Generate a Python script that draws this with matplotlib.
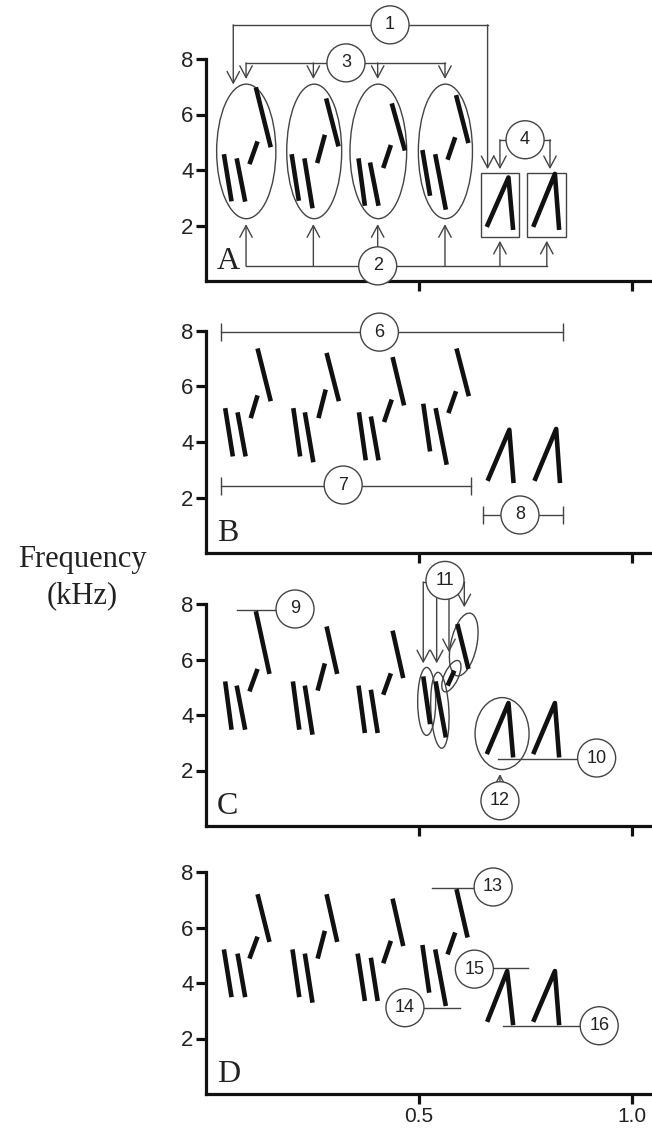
import matplotlib
matplotlib.use("Agg")
import matplotlib.pyplot as plt
from matplotlib.patches import Ellipse, Rectangle
from matplotlib.transforms import ScaledTranslation

# ---------------- data (time s, frequency kHz) ----------------
# notes: [x_start, y_start, x_end, y_end]
A_notes = [
    [0.042, 4.57, 0.060, 2.87], [0.072, 4.42, 0.092, 2.86], [0.102, 4.21, 0.121, 5.03], [0.117, 6.98, 0.152, 4.82],
    [0.201, 4.57, 0.218, 2.89], [0.231, 4.42, 0.250, 2.62], [0.261, 4.25, 0.279, 5.27], [0.282, 6.58, 0.311, 4.85],
    [0.358, 4.42, 0.373, 2.71], [0.385, 4.27, 0.405, 2.71], [0.416, 4.07, 0.434, 4.90], [0.436, 6.40, 0.467, 4.70],
    [0.508, 4.72, 0.526, 3.07], [0.538, 4.57, 0.563, 2.57], [0.567, 4.37, 0.585, 5.18], [0.587, 6.70, 0.616, 4.97]]
B_notes = [
    [0.045, 5.22, 0.063, 3.48], [0.074, 5.07, 0.093, 3.48], [0.105, 4.86, 0.121, 5.68], [0.121, 7.37, 0.152, 5.47],
    [0.205, 5.22, 0.221, 3.48], [0.232, 5.07, 0.252, 3.27], [0.264, 4.86, 0.281, 5.89], [0.283, 7.21, 0.312, 5.47],
    [0.359, 5.07, 0.375, 3.34], [0.387, 4.92, 0.405, 3.34], [0.418, 4.72, 0.436, 5.53], [0.438, 7.06, 0.465, 5.32],
    [0.510, 5.38, 0.526, 3.66], [0.539, 5.22, 0.565, 3.18], [0.569, 5.04, 0.587, 5.83], [0.588, 7.37, 0.617, 5.65]]
C_notes = [
    [0.045, 5.21, 0.060, 3.47], [0.072, 5.06, 0.092, 3.47], [0.102, 4.85, 0.121, 5.66], [0.117, 7.74, 0.149, 5.48],
    [0.204, 5.21, 0.219, 3.47], [0.232, 5.06, 0.250, 3.29], [0.262, 4.88, 0.279, 5.86], [0.283, 7.19, 0.308, 5.48],
    [0.358, 5.06, 0.373, 3.35], [0.387, 4.91, 0.403, 3.35], [0.416, 4.73, 0.434, 5.50], [0.438, 7.04, 0.463, 5.33],
    [0.510, 5.39, 0.526, 3.67], [0.539, 5.21, 0.563, 3.19], [0.567, 5.06, 0.583, 5.60], [0.590, 7.28, 0.616, 5.66]]
D_notes = [
    [0.042, 5.21, 0.060, 3.49], [0.074, 5.06, 0.092, 3.49], [0.102, 4.88, 0.121, 5.67], [0.121, 7.20, 0.149, 5.48],
    [0.203, 5.21, 0.219, 3.49], [0.232, 5.06, 0.250, 3.29], [0.262, 4.88, 0.279, 5.88], [0.283, 7.20, 0.308, 5.48],
    [0.356, 5.06, 0.373, 3.35], [0.387, 4.91, 0.403, 3.35], [0.416, 4.71, 0.434, 5.52], [0.438, 7.04, 0.463, 5.33],
    [0.508, 5.37, 0.524, 3.65], [0.538, 5.21, 0.563, 3.17], [0.567, 5.03, 0.585, 5.82], [0.588, 7.38, 0.614, 5.64]]

# trills: [x_start, y_start, x_peak, y_peak, x_end, y_end]
A_trills = [[0.659, 1.95, 0.710, 3.73, 0.721, 1.84], [0.768, 1.95, 0.819, 3.86, 0.829, 1.84]]
B_trills = [[0.661, 2.60, 0.712, 4.44, 0.722, 2.52], [0.771, 2.60, 0.822, 4.47, 0.831, 2.52]]
C_trills = [[0.659, 2.59, 0.710, 4.43, 0.721, 2.47], [0.768, 2.59, 0.819, 4.43, 0.829, 2.47]]
D_trills = [[0.660, 2.60, 0.707, 4.43, 0.721, 2.48], [0.768, 2.60, 0.819, 4.43, 0.829, 2.48]]

panel_letters = ["A", "B", "C", "D"]
y_ticks = [2, 4, 6, 8]
x_ticks = [0.5, 1.0]
x_ticklabels = ["0.5", "1.0"]

# ---------------- styling ----------------
W, H = 652, 1129
fig = plt.figure(figsize=(W / 100, H / 100), dpi=100)
SANS = ["Liberation Sans", "DejaVu Sans"]
SERIF = ["Liberation Serif", "DejaVu Serif"]
INK = "#111111"
ANN = "#444444"

axis_bottom_px = [281, 553, 826, 1094]
left_px = 206
ax_h_px = 222

axes = []
for i, yb in enumerate(axis_bottom_px):
    ax = fig.add_axes([left_px / W, 1 - yb / H, 1 - left_px / W, ax_h_px / H])
    ax.set_xlim(0, (W - left_px) / 426)
    ax.set_ylim(0, 8)
    for s in ("top", "right"):
        ax.spines[s].set_visible(False)
    for s in ("left", "bottom"):
        ax.spines[s].set_linewidth(2.3)
        ax.spines[s].set_color(INK)
    ax.set_yticks(y_ticks)
    ax.set_yticklabels([str(t) for t in y_ticks], family=SANS, fontsize=16)
    ax.set_xticks(x_ticks)
    if i == 3:
        ax.set_xticklabels(x_ticklabels, family=SANS, fontsize=15)
    else:
        ax.set_xticklabels([])
    ax.tick_params(direction="out", length=7, width=2.3, color=INK, pad=2, labelcolor="#222222")
    ax.patch.set_alpha(0)
    ax.text(0.025, 0.42, panel_letters[i], family=SERIF, fontsize=23, ha="left",
            va="baseline", color="#222222")
    axes.append(ax)

fig.text(82 / W, 1 - 567 / H, "Frequency", family=SERIF, fontsize=22, ha="center",
         va="baseline", color="#222222")
fig.text(82 / W, 1 - 603 / H, "(kHz)", family=SERIF, fontsize=22, ha="center",
         va="baseline", color="#222222")


def draw_song(ax, notes, trills):
    for x0, y0, x1, y1 in notes:
        ax.plot([x0, x1], [y0, y1], color=INK, lw=3.3, solid_capstyle="butt", zorder=4)
    for x0, y0, xp, yp, x1, y1 in trills:
        ax.plot([x0, xp, x1], [y0, yp, y1], color=INK, lw=3.3, solid_capstyle="butt",
                solid_joinstyle="round", zorder=4)


def line(ax, xs, ys):
    ax.plot(xs, ys, color=ANN, lw=1.0, zorder=3, clip_on=False)


def arrow(ax, x0, y0, x1, y1):
    ax.annotate("", xy=(x1, y1), xytext=(x0, y0), annotation_clip=False, zorder=3,
                arrowprops=dict(arrowstyle="->,head_length=0.6,head_width=0.32", color=ANN,
                                lw=1.0, shrinkA=0, shrinkB=0, mutation_scale=14))


def px_ellipse(ax, x, y, w_px, h_px, angle=0, fc="none", z=3):
    tr = fig.dpi_scale_trans + ScaledTranslation(x, y, ax.transData)
    ax.add_patch(Ellipse((0, 0), w_px / 100, h_px / 100, angle=angle, transform=tr, fc=fc,
                         ec=ANN, lw=1.0, zorder=z, clip_on=False))


def bubble(ax, x, y, label):
    px_ellipse(ax, x, y, 38, 38, fc="white", z=6)
    ax.text(x, y, label, family=SANS, fontsize=13, ha="center", va="center",
            color="#222222", zorder=7, clip_on=False)


def tbar(ax, x0, x1, y):
    line(ax, [x0, x1], [y, y])
    ax.plot([x0, x1], [y, y], ls="none", marker="|", ms=13, mew=1.0, color=ANN, zorder=3,
            clip_on=False)


# ---------------- panel A ----------------
ax = axes[0]
draw_song(ax, A_notes, A_trills)
for cx, w in zip([0.0945, 0.254, 0.4045, 0.562], [0.139, 0.129, 0.133, 0.127]):
    ax.add_patch(Ellipse((cx, 4.67), w, 4.85, fc="none", ec=ANN, lw=1.0, zorder=3))
for bx in [0.645, 0.754]:
    ax.add_patch(Rectangle((bx, 1.59), 0.09, 2.30, fc="none", ec=ANN, lw=1.0, zorder=3))
# 1
line(ax, [0.064, 0.661], [9.23, 9.23])
arrow(ax, 0.064, 9.23, 0.064, 7.08)
arrow(ax, 0.661, 9.23, 0.661, 4.03)
bubble(ax, 0.432, 9.23, "1")
# 3
line(ax, [0.094, 0.561], [7.86, 7.86])
for xa in [0.094, 0.252, 0.403, 0.561]:
    arrow(ax, xa, 7.86, xa, 7.28)
bubble(ax, 0.3286, 7.86, "3")
# 4
line(ax, [0.690, 0.8075], [5.09, 5.09])
for xa in [0.690, 0.8075]:
    arrow(ax, xa, 5.09, xa, 4.03)
bubble(ax, 0.749, 5.09, "4")
# 2
line(ax, [0.094, 0.80], [0.545, 0.545])
for xa in [0.094, 0.252, 0.403, 0.561]:
    arrow(ax, xa, 0.545, xa, 2.05)
for xa in [0.690, 0.80]:
    arrow(ax, xa, 0.545, xa, 1.45)
bubble(ax, 0.403, 0.545, "2")

# ---------------- panel B ----------------
ax = axes[1]
draw_song(ax, B_notes, B_trills)
tbar(ax, 0.0345, 0.839, 7.96)
bubble(ax, 0.407, 7.96, "6")
tbar(ax, 0.0345, 0.621, 2.43)
bubble(ax, 0.322, 2.45, "7")
tbar(ax, 0.651, 0.839, 1.37)
bubble(ax, 0.737, 1.37, "8")

# ---------------- panel C ----------------
ax = axes[2]
draw_song(ax, C_notes, C_trills)
line(ax, [0.0735, 0.209], [7.80, 7.80])
bubble(ax, 0.209, 7.82, "9")
line(ax, [0.686, 0.917], [2.43, 2.43])
bubble(ax, 0.917, 2.45, "10")
px_ellipse(ax, 0.518, 4.49, 18, 68, angle=0)
px_ellipse(ax, 0.549, 4.17, 18, 76, angle=3)
px_ellipse(ax, 0.576, 5.40, 14, 34, angle=-25)
px_ellipse(ax, 0.605, 6.54, 26, 64, angle=-12)
line(ax, [0.510, 0.6064], [8.79, 8.79])
arrow(ax, 0.510, 8.79, 0.510, 5.86)
arrow(ax, 0.5415, 8.85, 0.5415, 5.86)
arrow(ax, 0.5704, 8.85, 0.5704, 6.26)
arrow(ax, 0.6064, 8.79, 0.6064, 7.88)
bubble(ax, 0.561, 8.85, "11")
px_ellipse(ax, 0.695, 3.33, 54, 72)
arrow(ax, 0.690, 0.91, 0.690, 1.87)
bubble(ax, 0.690, 0.91, "12")

# ---------------- panel D ----------------
ax = axes[3]
draw_song(ax, D_notes, D_trills)
line(ax, [0.531, 0.674], [7.44, 7.44])
bubble(ax, 0.674, 7.46, "13")
line(ax, [0.467, 0.596], [3.11, 3.11])
bubble(ax, 0.467, 3.11, "14")
line(ax, [0.630, 0.755], [4.53, 4.53])
bubble(ax, 0.630, 4.50, "15")
line(ax, [0.698, 0.923], [2.45, 2.45])
bubble(ax, 0.923, 2.46, "16")

fig.savefig("out.png", dpi=100)
